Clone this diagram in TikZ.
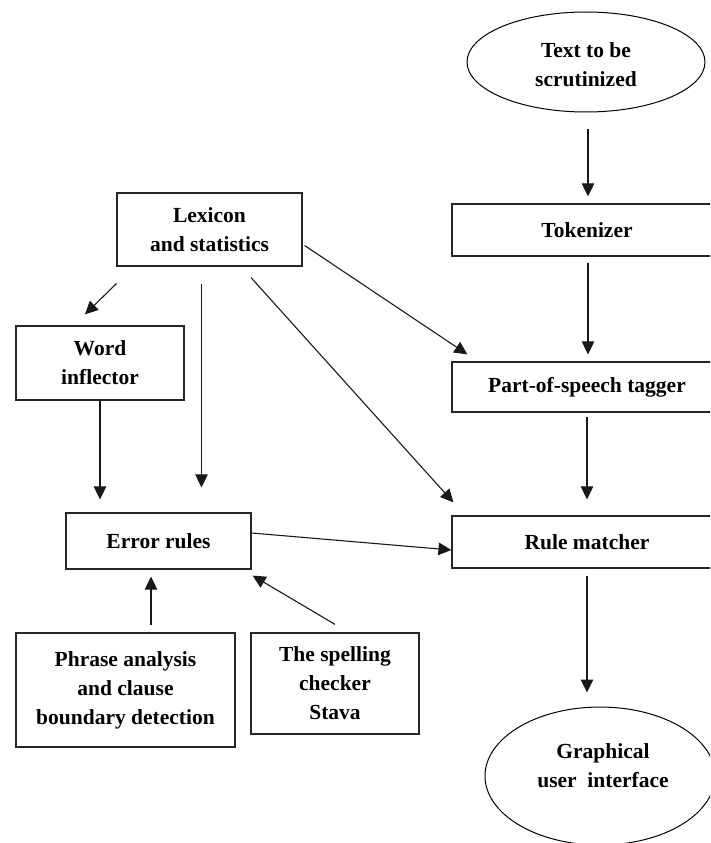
\documentclass[tikz,border=0pt]{standalone}
\usepackage{fontspec}
\setmainfont{Liberation Serif}
\usetikzlibrary{arrows.meta,calc,shapes.geometric}

\tikzset{
  lbl/.style={font=\fontsize{21.5}{29}\selectfont\bfseries, align=center, inner sep=0pt},
  blk/.style={lbl, draw=black!85, line width=1.2pt, rectangle},
  oval/.style={lbl, draw=black, line width=1pt, ellipse},
  arr/.style={draw=black!90, line width=1.1pt, -{Triangle[length=13pt,width=12.5pt]}},
}

\begin{document}
\begin{tikzpicture}[x=1pt, y=-1pt]
  \useasboundingbox (0,0) rectangle (710,843);
  \clip (0,0) rectangle (710,843);

  % main pipeline on the right
  \node[oval, minimum width=238pt, minimum height=100pt] (txt) at (586,62) {};
  \node[lbl] (txtlabel) at (586,65) {Text to be\\scrutinized};
  \node[blk, minimum width=270pt, minimum height=52pt] (tok) at (587,230) {Tokenizer};
  \node[blk, minimum width=270pt, minimum height=50pt] (pos) at (587,387) {Part-of-speech tagger};
  \node[blk, minimum width=270pt, minimum height=52pt] (rm) at (587,542) {Rule matcher};
  \node[oval, minimum width=230pt, minimum height=138pt] (gui) at (600,776) {};
  \node[lbl] (guilabel) at (603,766) {Graphical\\user\ \ interface};

  % knowledge sources on the left
  \node[blk, minimum width=185pt, minimum height=73pt] (lex) at (209.5,229.5) {Lexicon\\and statistics};
  \node[blk, minimum width=168pt, minimum height=74pt] (wi) at (100,363) {Word\\inflector};
  \node[blk, minimum width=185pt, minimum height=56pt] (err) at (158.5,541) {Error rules};
  \node[blk, minimum width=219pt, minimum height=114pt] (phr) at (125.5,690) {Phrase analysis\\and clause\\boundary detection};
  \node[blk, minimum width=168pt, minimum height=101pt] (stava) at (335,683.5) {The spelling\\checker\\Stava};

  % free ends of the connectors
  \coordinate (lexdown) at ($(lex.south)+(-8,17)$);
  \coordinate (phrup) at ($(phr.north)+(25.5,-7)$);

  % pipeline arrows
  \draw[arr, shorten <=16pt, shorten >=7pt] ($(txt.south)+(2,0)$) -- ($(txt.south |- tok.north)+(2,0)$);
  \draw[arr, shorten <=6pt, shorten >=7pt] ($(tok.south)+(1,0)$) -- ($(tok.south |- pos.north)+(1,0)$);
  \draw[arr, shorten <=4pt, shorten >=16pt] (pos.south) -- (pos.south |- rm.north);
  \draw[arr, shorten <=7pt, shorten >=14pt] (rm.south) -- (rm.south |- gui.north);

  % arrows from the lexicon
  \draw[arr] ($(lex.south west)+(0,17)$) -- ($(wi.north)+(-15,-11)$);
  \draw[arr, shorten >=25pt] (lexdown) -- (lexdown |- err.north);
  \draw[arr] ($(lex.east)+(2,16)$) -- ($(pos.north west)+(16,-7)$);
  \draw[arr] ($(lex.south)+(41.5,11)$) -- ($(rm.north west)+(2,-13)$);

  % arrows into and out of the error rules
  \draw[arr, shorten >=13pt] (wi.south) -- (wi.south |- err.north);
  \draw[arr] ($(err.east)+(0,-8)$) -- ($(rm.west)+(0,8)$);
  \draw[arr, shorten >=7pt] (phrup) -- (phrup |- err.south);
  \draw[arr] ($(stava.north)+(0,-8)$) -- ($(err.south east)+(1,6)$);
\end{tikzpicture}
\end{document}
